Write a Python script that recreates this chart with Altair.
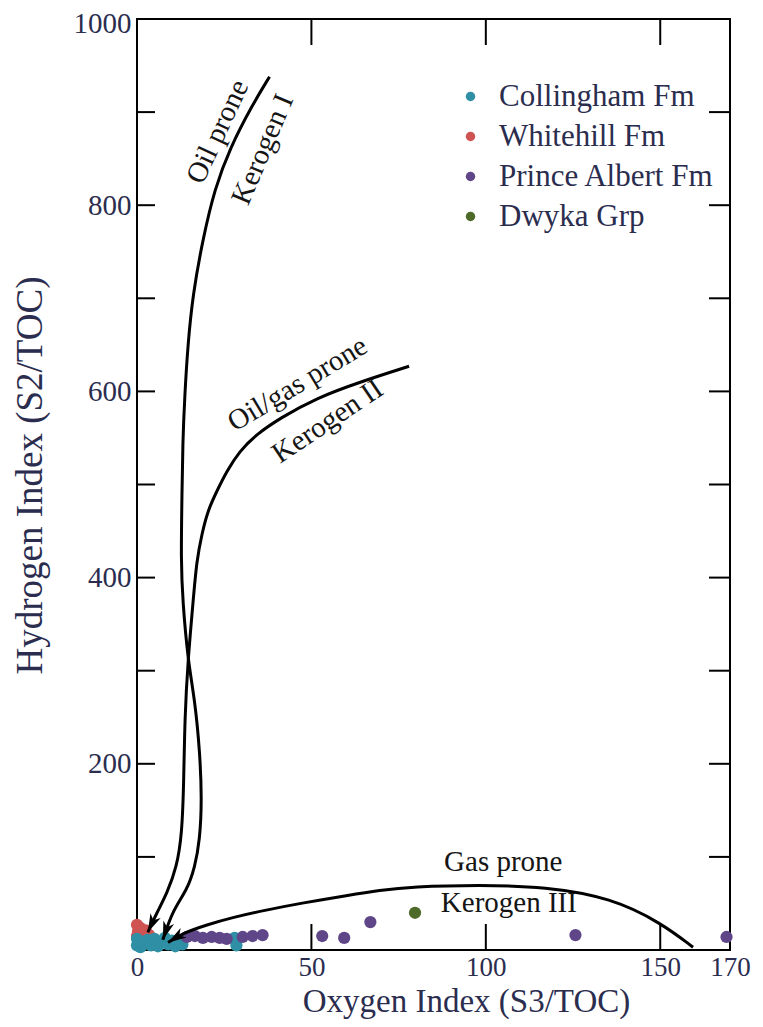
import altair as alt
import pandas as pd
import numpy as np

FONT = "Liberation Serif"
TXT = "#2b2d4f"
PLOT_W = 593
PLOT_H = 931

# ---------------- data ----------------
series_names = ["Collingham Fm", "Whitehill Fm", "Prince Albert Fm", "Dwyka Grp"]
series_colors = ["#2f8fa4", "#cf5353", "#5f4688", "#4d6a28"]

whitehill_oi = [0.0, 0.3, 0.8, 1.5, 2.5, 3.5, 0.0]
whitehill_hi = [27, 20, 24, 17, 21, 16, 15]
collingham_oi = [0.0, 0.0, 0.5, 1.0, 2.0, 3.0, 4.0, 5.0, 6.0, 7.0, 8.0, 9.0, 10.0, 11.0, 12.0, 13.0, 28.0, 28.5]
collingham_hi = [5, 12, 9, 3, 8, 11, 5, 12, 4, 9, 13, 6, 10, 4, 8, 6, 13, 5]
prince_albert_oi = [14.3, 16.6, 18.9, 21.4, 23.7, 25.7, 30.3, 33.1, 36.0, 53.1, 59.4, 66.9, 125.7, 169.0]
prince_albert_hi = [14, 15, 13, 14, 13, 12, 14, 15, 16, 15, 13, 30, 16, 14]
dwyka_oi = [79.7]
dwyka_hi = [40]

# kerogen evolution paths (Oxygen Index, Hydrogen Index)
kerogen1_oi = [38.0, 33.1, 26.6, 22.3, 18.9, 16.0, 14.6, 13.7, 13.1, 12.9, 12.6, 13.1, 14.6, 16.6, 18.0, 18.6, 18.0, 16.6, 14.3, 10.3, 7.4]
kerogen1_hi = [938, 908, 861, 818, 764, 704, 651, 597, 544, 490, 418, 375, 311, 268, 214, 161, 118, 89, 64, 43, 11]
kerogen2_oi = [78.0, 64.6, 51.4, 40.9, 34.3, 29.4, 25.7, 22.9, 20.3, 18.6, 17.1, 16.1, 14.6, 13.7, 13.4, 12.9, 11.4, 8.6, 5.7, 3.1]
kerogen2_hi = [627, 611, 593, 571, 554, 536, 514, 493, 472, 447, 418, 375, 311, 250, 179, 125, 89, 61, 40, 19]
kerogen3_oi = [159.4, 150.3, 136.0, 117.1, 98.0, 78.9, 69.4, 60.9, 46.6, 37.1, 27.4, 20.0, 13.1, 8.9]
kerogen3_hi = [3, 29, 56, 68, 70, 68, 64, 59, 50, 43, 35, 27, 18, 8]

labels_text = ["Oil prone", "Kerogen I", "Oil/gas prone", "Kerogen II", "Gas prone", "Kerogen III"]
labels_oi = [23.1, 36.0, 46.0, 54.6, 105.0, 106.6]
labels_hi = [879, 860, 608, 568, 94, 50]
labels_angle = [295, 293, 329, 326, 0, 0]

x_label_values = [0, 50, 100, 150, 170]
y_label_values = [200, 400, 600, 800, 1000]
x_tick_values = [50, 100, 150]
y_tick_values = [100, 200, 300, 400, 500, 600, 700, 800, 900]

# ---------------- tables ----------------
rows = []
for name, oi, hi in [("Whitehill Fm", whitehill_oi, whitehill_hi),
                     ("Collingham Fm", collingham_oi, collingham_hi),
                     ("Prince Albert Fm", prince_albert_oi, prince_albert_hi),
                     ("Dwyka Grp", dwyka_oi, dwyka_hi)]:
    for a, b in zip(oi, hi):
        rows.append({"series": name, "oi": a, "hi": b})
pts = pd.DataFrame(rows)
pts["idx"] = range(len(pts))

crow = []
arrows = []
sxp = PLOT_W / 170.0
syp = PLOT_H / 1000.0
for name, oi, hi in [("I", kerogen1_oi, kerogen1_hi),
                     ("II", kerogen2_oi, kerogen2_hi),
                     ("III", kerogen3_oi, kerogen3_hi)]:
    for i, (a, b) in enumerate(zip(oi, hi)):
        crow.append({"curve": name, "idx": i, "oi": a, "hi": b})
    dx = (oi[-1] - oi[-2]) * sxp
    dy = -(hi[-1] - hi[-2]) * syp
    ang = (np.degrees(np.arctan2(dx, -dy)) + 360) % 360
    arrows.append({"oi": oi[-1], "hi": hi[-1], "ang": float(ang)})
curves = pd.DataFrame(crow)
arrow_df = pd.DataFrame(arrows)
labels_df = pd.DataFrame({"t": labels_text, "oi": labels_oi, "hi": labels_hi, "ang": labels_angle})

sx = alt.Scale(domain=[0, 170], nice=False, zero=False)
sy = alt.Scale(domain=[0, 1000], nice=False, zero=False)

x_axis = alt.Axis(values=x_label_values, title="Oxygen Index (S3/TOC)", ticks=False, domain=False,
                  grid=False, format="d", labelFont=FONT, labelFontSize=27, labelColor=TXT,
                  labelPadding=4, labelFlush=False, labelOverlap=False, titleFont=FONT,
                  titleFontSize=33, titleFontWeight="normal", titleColor=TXT, titleX=329,
                  titleY=61, titleBaseline="alphabetic", titleAlign="center")
y_axis = alt.Axis(values=y_label_values, title="Hydrogen Index (S2/TOC)", ticks=False, domain=False,
                  grid=False, format="d", labelFont=FONT, labelFontSize=29, labelColor=TXT,
                  labelPadding=6, labelFlush=False, labelOverlap=False,
                  labelOffset={"condition": {"test": "datum.value == 1000", "value": 4}, "value": 0},
                  titleFont=FONT, titleFontSize=37, titleFontWeight="normal", titleColor=TXT,
                  titleX=-107, titleY=456, titleAngle=270, titleBaseline="middle",
                  titleAlign="center")


def X(field):
    return alt.X(field, scale=sx, axis=x_axis)


def Y(field):
    return alt.Y(field, scale=sy, axis=y_axis)


points = alt.Chart(pts).mark_circle(size=150, opacity=1).encode(
    x=X("oi:Q"),
    y=Y("hi:Q"),
    color=alt.Color("series:N", scale=alt.Scale(domain=series_names, range=series_colors),
                    legend=alt.Legend(title=None, orient="none", legendX=318, legendY=62,
                                      labelFont=FONT, labelFontSize=31, labelColor=TXT,
                                      labelLimit=400, symbolType="circle", symbolSize=90,
                                      symbolStrokeWidth=0, symbolOpacity=1, labelOffset=13,
                                      rowPadding=8)),
    order=alt.Order("idx:Q"),
)

lines = alt.Chart(curves).mark_line(color="black", strokeWidth=3, interpolate="basis").encode(
    x=X("oi:Q"),
    y=Y("hi:Q"),
    detail="curve:N",
    order=alt.Order("idx:Q"),
)

heads = alt.Chart(arrow_df).mark_point(
    shape="M0,0L0.55,1.8L0,1.3L-0.55,1.8Z", filled=True, color="black", size=420, opacity=1
).encode(
    x=X("oi:Q"),
    y=Y("hi:Q"),
    angle=alt.Angle("ang:Q", scale=None),
)

texts = alt.Chart(labels_df).mark_text(font=FONT, fontSize=29, color="#151515").encode(
    x=X("oi:Q"),
    y=Y("hi:Q"),
    text="t:N",
    angle=alt.Angle("ang:Q", scale=None),
)

ydf = pd.DataFrame({"oi": [0.0] * len(y_tick_values), "hi": y_tick_values})
xdf = pd.DataFrame({"oi": x_tick_values, "hi": [0.0] * len(x_tick_values)})
left_ticks = alt.Chart(ydf).mark_rule(color="black", strokeWidth=2).encode(
    y=Y("hi:Q"), x=alt.value(0), x2=alt.value(18))
right_ticks = alt.Chart(ydf).mark_rule(color="black", strokeWidth=2).encode(
    y=Y("hi:Q"), x=alt.value(PLOT_W - 21), x2=alt.value(PLOT_W))
top_ticks = alt.Chart(xdf).mark_rule(color="black", strokeWidth=2).encode(
    x=X("oi:Q"), y=alt.value(0), y2=alt.value(26))
bottom_ticks = alt.Chart(xdf).mark_rule(color="black", strokeWidth=2).encode(
    x=X("oi:Q"), y=alt.value(PLOT_H - 26), y2=alt.value(PLOT_H))

chart = alt.layer(points, lines, heads, texts, left_ticks, right_ticks, top_ticks, bottom_ticks).properties(
    width=PLOT_W, height=PLOT_H,
    padding={"left": 129, "top": 11, "right": 25, "bottom": 69},
    autosize=alt.AutoSizeParams(type="none"),
    background="white",
).configure_view(stroke="black", strokeWidth=2)

chart.save("out.html", embed_options={"renderer": "svg", "actions": False})
